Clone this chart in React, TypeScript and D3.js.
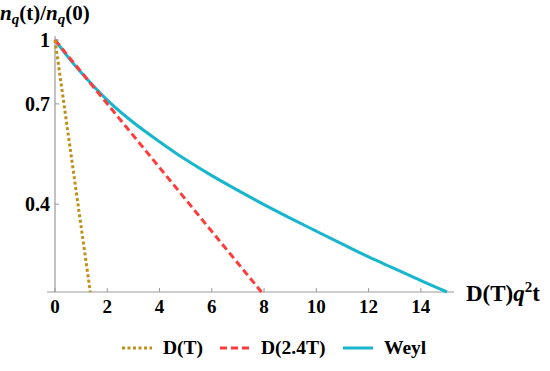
import * as d3 from "d3";
import { useRef, useEffect } from "react";

// values
const xTicks = [0, 2, 4, 6, 8, 10, 12, 14];
const yTicks = [1, 0.7, 0.4];

const dT = [
  { x: 0, y: 1 },
  { x: 1.35, y: 0.245 },
];
const d24T = [
  { x: 0, y: 1 },
  { x: 7.9, y: 0.245 },
];
const weylX = [0, 0.5, 1, 2, 3, 4, 5, 6, 7, 8, 9, 10, 11, 12, 13, 14, 15];
const weylY = [1, 0.909, 0.834, 0.715, 0.631, 0.567, 0.513, 0.469, 0.432, 0.399, 0.37, 0.344, 0.32, 0.298, 0.279, 0.261, 0.245];

const seriesNames = ["D(T)", "D(2.4T)", "Weyl"];
const colors = ["#c0901a", "#ff3b3b", "#16b6cc"];
const dashes = ["3,2.5", "7,4", null];

const W = 550;
const H = 371;
const FONT = "Liberation Serif, Times New Roman, serif";

const App = () => {
  const ref = useRef(null);

  useEffect(() => {
    const svg = d3.select(ref.current);
    svg.selectAll("*").remove();

    const x = d3.scaleLinear().domain([0, 15]).range([55, 447]);
    const y = d3.scaleLog().domain([0.245, 1]).range([292, 40]);

    const axisColor = "#999";

    // axes lines
    svg.append("line")
      .attr("x1", 47).attr("x2", 454)
      .attr("y1", y(0.245)).attr("y2", y(0.245))
      .attr("stroke", axisColor).attr("stroke-width", 1.2);
    svg.append("line")
      .attr("x1", x(0)).attr("x2", x(0))
      .attr("y1", y(0.245)).attr("y2", 36)
      .attr("stroke", axisColor).attr("stroke-width", 1.2);

    xTicks.forEach(t => {
      svg.append("line")
        .attr("x1", x(t)).attr("x2", x(t))
        .attr("y1", y(0.245)).attr("y2", y(0.245) - 4)
        .attr("stroke", axisColor).attr("stroke-width", 1);
      svg.append("text")
        .attr("x", x(t)).attr("y", 313)
        .attr("text-anchor", "middle")
        .style("font-family", FONT).style("font-weight", "bold").style("font-size", "19px")
        .text(t);
    });

    yTicks.forEach(t => {
      svg.append("line")
        .attr("x1", x(0)).attr("x2", x(0) + 4)
        .attr("y1", y(t)).attr("y2", y(t))
        .attr("stroke", axisColor).attr("stroke-width", 1);
      svg.append("text")
        .attr("x", 50).attr("y", y(t) + 7)
        .attr("text-anchor", "end")
        .style("font-family", FONT).style("font-weight", "bold").style("font-size", "20px")
        .text(t);
    });

    // axis titles
    const yt = svg.append("text")
      .attr("x", 0).attr("y", 20)
      .style("font-family", FONT).style("font-weight", "bold").style("font-size", "21px");
    yt.append("tspan").attr("font-style", "italic").text("n");
    yt.append("tspan").attr("font-style", "italic").attr("font-size", 15).attr("dy", 4).text("q");
    yt.append("tspan").attr("dy", -4).text("(t)/");
    yt.append("tspan").attr("font-style", "italic").text("n");
    yt.append("tspan").attr("font-style", "italic").attr("font-size", 15).attr("dy", 4).text("q");
    yt.append("tspan").attr("dy", -4).text("(0)");

    const xt = svg.append("text")
      .attr("x", 466).attr("y", 301)
      .style("font-family", FONT).style("font-weight", "bold").style("font-size", "23px");
    xt.append("tspan").text("D(T)");
    xt.append("tspan").attr("font-style", "italic").text("q");
    xt.append("tspan").attr("font-size", 15).attr("dy", -9).text("2");
    xt.append("tspan").attr("dy", 9).text("t");

    // curves
    const straight = d3.line().x(d => x(d.x)).y(d => y(d.y));
    const smooth = d3.line().x(d => x(d.x)).y(d => y(d.y)).curve(d3.curveCatmullRom);
    const weyl = weylX.map((v, i) => ({ x: v, y: weylY[i] }));
    const data = [dT, d24T, weyl];
    [2, 1, 0].forEach(i => {
      svg.append("path")
        .attr("d", i === 2 ? smooth(data[i]) : straight(data[i]))
        .attr("fill", "none")
        .attr("stroke", colors[i])
        .attr("stroke-width", 3)
        .attr("stroke-dasharray", dashes[i]);
    });

    // legend
    const legX = [122, 220, 343];
    seriesNames.forEach((name, i) => {
      svg.append("line")
        .attr("x1", legX[i]).attr("x2", legX[i] + 30)
        .attr("y1", 348).attr("y2", 348)
        .attr("stroke", colors[i]).attr("stroke-width", 3)
        .attr("stroke-dasharray", dashes[i]);
      svg.append("text")
        .attr("x", legX[i] + 41).attr("y", 354)
        .style("font-family", FONT).style("font-weight", "bold").style("font-size", "19.5px")
        .text(name);
    });
  }, []);

  return (
    <svg ref={ref} width={W} height={H} style={{ position: "absolute", left: 0, top: 0 }}></svg>
  );
};

export default App;
